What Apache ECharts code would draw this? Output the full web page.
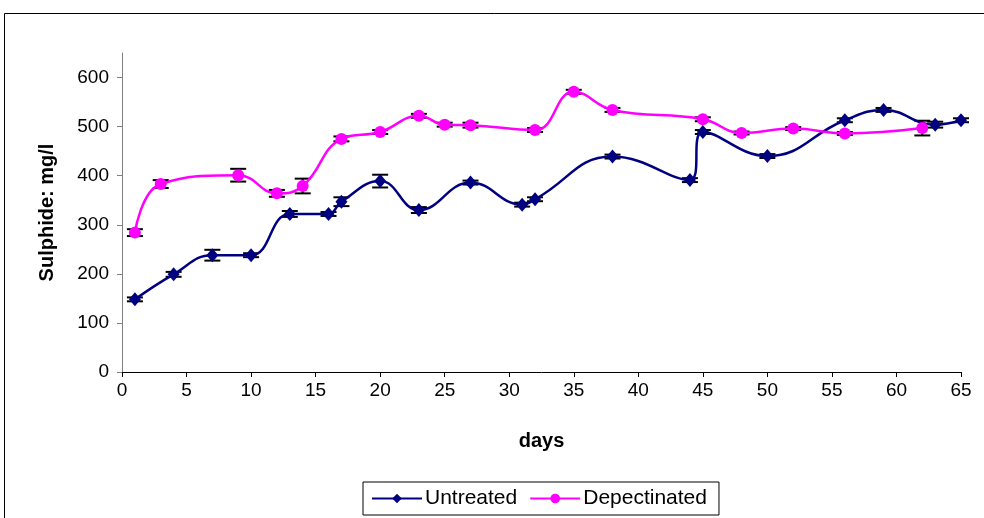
<!DOCTYPE html>
<html>
<head>
<meta charset="utf-8">
<script src="https://cdn.jsdelivr.net/npm/echarts@6/dist/echarts.min.js"></script>
<style>
  html, body { margin: 0; padding: 0; background: #fff; }
  #chart { width: 984px; height: 518px; }
</style>
</head>
<body>
<div id="chart"></div>
<script>
// Sampling days and sulphide concentrations (mg/l) with error half-widths
const untreatedDays = [1, 4, 7, 10, 13, 16, 17, 20, 23, 27, 31, 32, 38, 44, 45, 50, 56, 59, 63, 65];
const untreatedValues = [148, 199, 238, 238, 322, 322, 347, 389, 330, 386, 341, 352, 439, 391, 489, 440, 513, 534, 504, 513];
const untreatedErrors = [4, 5, 11, 4, 6, 4, 9, 13, 6, 4, 4, 4, 4, 4, 4, 4, 4, 4, 6, 4];

const depectinatedDays = [1, 3, 9, 12, 14, 17, 20, 23, 25, 27, 32, 35, 38, 45, 48, 52, 56, 62];
const depectinatedValues = [284, 383, 401, 364, 379, 475, 489, 522, 504, 503, 493, 571, 534, 515, 487, 496, 486, 497];
const depectinatedErrors = [7, 8, 13, 7, 15, 5, 4, 4, 4, 5, 4, 4, 4, 4, 3, 3, 3, 15];

const yTickValues = [0, 100, 200, 300, 400, 500, 600];

const FONT = '"Liberation Sans", Arial, sans-serif';

function points(days, values) {
  return days.map((d, i) => [d, values[i]]);
}
function errorRows(days, values, errs) {
  return days.map((d, i) => [d, values[i] - errs[i], values[i] + errs[i]]);
}

// Vertical error bar with horizontal caps, placed through the axis scales
function renderErrorBar(params, api) {
  const x = api.value(0);
  const top = api.coord([x, api.value(2)]);
  const bottom = api.coord([x, api.value(1)]);
  const half = 8;
  const style = { stroke: '#000', lineWidth: 2 };
  return {
    type: 'group',
    children: [
      { type: 'line', shape: { x1: top[0], y1: top[1], x2: bottom[0], y2: bottom[1] }, style: style },
      { type: 'line', shape: { x1: top[0] - half, y1: top[1], x2: top[0] + half, y2: top[1] }, style: style },
      { type: 'line', shape: { x1: bottom[0] - half, y1: bottom[1], x2: bottom[0] + half, y2: bottom[1] }, style: style }
    ]
  };
}

const chart = echarts.init(document.getElementById('chart'), null, { renderer: 'canvas' });

chart.setOption({
  backgroundColor: '#fff',
  animation: false,
  textStyle: { fontFamily: FONT },
  graphic: [
    {
      type: 'rect',
      shape: { x: 4.5, y: 13.5, width: 1000, height: 520 },
      style: { fill: 'none', stroke: '#000', lineWidth: 1 },
      silent: true
    }
  ],
  grid: { left: 122, right: 23, top: 53, bottom: 146 },
  legend: {
    data: ['Untreated', 'Depectinated'],
    left: 363,
    top: 482,
    padding: [6, 12, 6, 8],
    itemWidth: 50,
    itemHeight: 12,
    itemGap: 12,
    borderColor: '#000',
    borderWidth: 1,
    borderRadius: 0,
    textStyle: { fontFamily: FONT, fontSize: 21, color: '#000', padding: [0, 0, 0, -2] }
  },
  xAxis: {
    type: 'value',
    min: 0,
    max: 65,
    interval: 5,
    name: 'days',
    nameLocation: 'middle',
    nameGap: 59,
    nameTextStyle: { fontFamily: FONT, fontSize: 20, fontWeight: 'bold', color: '#000' },
    axisLine: { show: true, lineStyle: { color: '#000', width: 1 } },
    axisTick: { show: true, inside: false, length: 5, lineStyle: { color: '#000' } },
    axisLabel: { margin: 9, fontFamily: FONT, fontSize: 19, color: '#000' },
    splitLine: { show: false }
  },
  yAxis: {
    type: 'value',
    min: 0,
    max: 650,
    interval: 100,
    name: 'Sulphide: mg/l',
    nameLocation: 'middle',
    nameGap: 65,
    nameRotate: 90,
    nameTextStyle: { fontFamily: FONT, fontSize: 20, fontWeight: 'bold', color: '#000' },
    axisLine: { show: true, lineStyle: { color: '#808080', width: 1 } },
    axisTick: { show: true, inside: false, length: 5, customValues: yTickValues, lineStyle: { color: '#808080' } },
    axisLabel: { margin: 13, fontFamily: FONT, fontSize: 19, color: '#000', customValues: yTickValues },
    splitLine: { show: false }
  },
  series: [
    {
      name: 'Untreated error',
      type: 'custom',
      renderItem: renderErrorBar,
      data: errorRows(untreatedDays, untreatedValues, untreatedErrors),
      encode: { x: 0, y: [1, 2] },
      z: 1,
      silent: true
    },
    {
      name: 'Depectinated error',
      type: 'custom',
      renderItem: renderErrorBar,
      data: errorRows(depectinatedDays, depectinatedValues, depectinatedErrors),
      encode: { x: 0, y: [1, 2] },
      z: 1,
      silent: true
    },
    {
      name: 'Untreated',
      type: 'line',
      data: points(untreatedDays, untreatedValues),
      smooth: 0.45,
      symbol: 'diamond',
      symbolSize: [12, 14],
      showSymbol: true,
      color: '#000080',
      lineStyle: { color: '#000080', width: 2.5 },
      itemStyle: { color: '#000080' },
      z: 3
    },
    {
      name: 'Depectinated',
      type: 'line',
      data: points(depectinatedDays, depectinatedValues),
      smooth: 0.45,
      symbol: 'circle',
      symbolSize: 12,
      showSymbol: true,
      color: '#FF00FF',
      lineStyle: { color: '#FF00FF', width: 2.5 },
      itemStyle: { color: '#FF00FF' },
      z: 4
    }
  ]
});
</script>
</body>
</html>
